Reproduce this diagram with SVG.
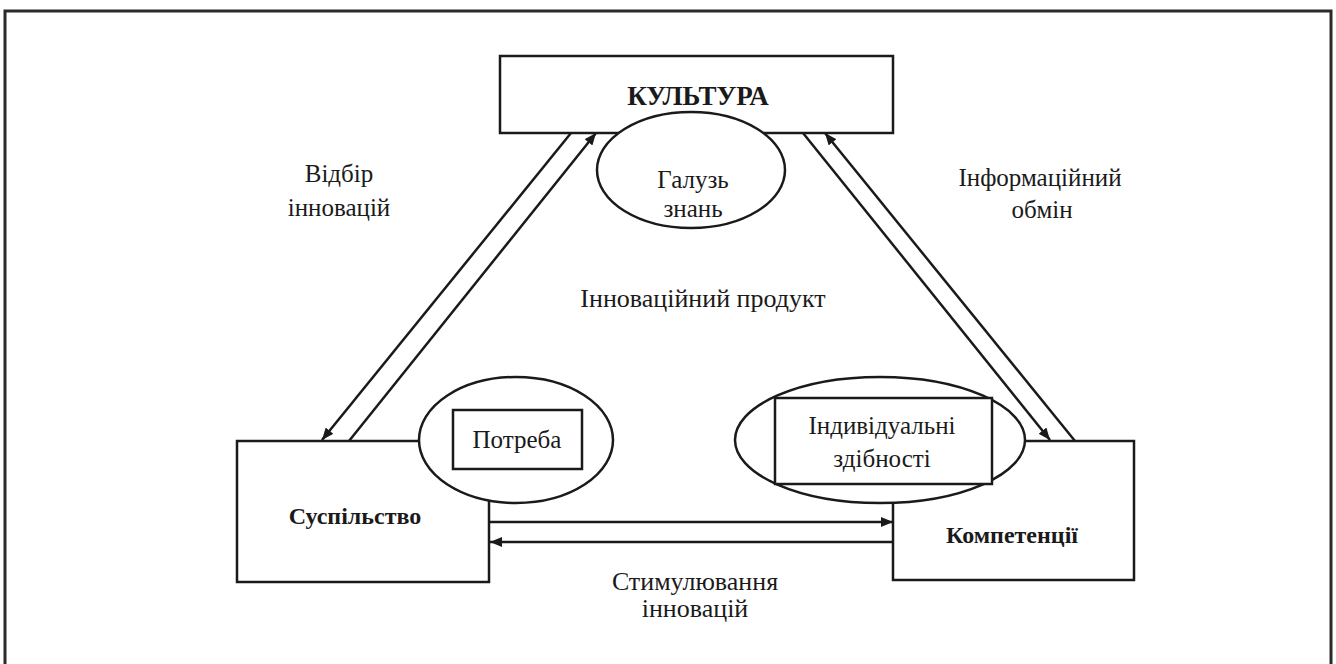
<svg xmlns="http://www.w3.org/2000/svg" width="1336" height="664" viewBox="0 0 1336 664">
<style>
.c{stroke:#1a1a1a;stroke-width:2.5;fill:none}
.b{fill:#fff;stroke:#1a1a1a;stroke-width:2.5}
.t{font-family:"Liberation Serif","Times New Roman",serif;font-size:25px;fill:#1a1a1a;text-anchor:middle}
.l{font-size:26px}
.bold{font-weight:bold;font-size:24px}
</style>
<defs>
<marker id="ah" viewBox="0 0 12 10" refX="12" refY="5" markerWidth="12" markerHeight="10" markerUnits="userSpaceOnUse" orient="auto">
<path d="M0,0 L12,5 L0,10 Z" fill="#1a1a1a"/>
</marker>
</defs>
<rect x="0" y="0" width="1336" height="664" fill="#fff"/>
<rect x="5" y="11" width="1326" height="670" fill="none" stroke="#2a2a2a" stroke-width="3"/>
<g id="connectors">
<line class="c" x1="571" y1="133" x2="322" y2="440" marker-end="url(#ah)"/>
<line class="c" x1="349" y1="441" x2="596" y2="133" marker-end="url(#ah)"/>
<line class="c" x1="803" y1="133" x2="1050" y2="440" marker-end="url(#ah)"/>
<line class="c" x1="1075" y1="441" x2="825" y2="133" marker-end="url(#ah)"/>
<line class="c" x1="490" y1="522" x2="893" y2="522" marker-end="url(#ah)"/>
<line class="c" x1="893" y1="542" x2="490" y2="542" marker-end="url(#ah)"/>
</g>
<g id="kultura">
<rect class="b" x="500" y="56" width="393" height="77"/>
<text class="t" x="698" y="105" style="font-size:27px;font-weight:bold">КУЛЬТУРА</text>
</g>
<g id="haluz">
<ellipse class="b" cx="691" cy="170" rx="94" ry="58"/>
<text class="t" x="693" y="188">Галузь</text>
<text class="t" x="693" y="217">знань</text>
</g>
<g id="suspilstvo">
<rect class="b" x="237" y="441" width="252" height="141"/>
<text class="t bold" x="355" y="524">Суспільство</text>
</g>
<g id="potreba">
<ellipse class="b" cx="516" cy="440" rx="97" ry="63"/>
<rect class="b" x="453" y="410" width="129" height="59"/>
<text class="t" x="517" y="448">Потреба</text>
</g>
<g id="kompetentsii">
<rect class="b" x="893" y="441" width="241" height="139"/>
<text class="t bold" x="1012" y="543">Компетенції</text>
</g>
<g id="zdibnosti">
<ellipse class="b" cx="880" cy="440" rx="145" ry="63"/>
<rect class="b" x="775" y="398" width="217" height="86"/>
<text class="t" x="882" y="434">Індивідуальні</text>
<text class="t" x="882" y="467">здібності</text>
</g>
<g id="labels">
<text class="t" x="339" y="182">Відбір</text>
<text class="t" x="339" y="216">інновацій</text>
<text class="t" x="1040" y="186">Інформаційний</text>
<text class="t" x="1042" y="218">обмін</text>
<text class="t l" x="703" y="307">Інноваційний продукт</text>
<text class="t l" x="695" y="590">Стимулювання</text>
<text class="t l" x="695" y="617">інновацій</text>
</g>
</svg>
